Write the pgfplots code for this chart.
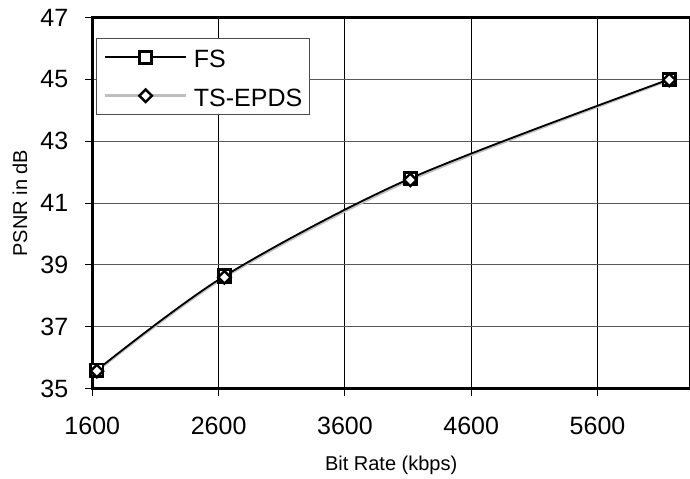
\documentclass[border=0pt]{standalone}
\usepackage{fontspec}
\setmainfont{Liberation Sans}
\usepackage{pgfplots}
\pgfplotsset{compat=1.18}
\begin{document}
\begin{tikzpicture}
\begin{axis}[
  name=ax,
  scale only axis,
  width=298.85pt, height=185.6pt,
  xmin=1600, xmax=6332,
  ymin=35, ymax=47,
  xtick={1600,2600,3600,4600,5600},
  ytick={35,37,39,41,43,45,47},
  grid=major,
  major x grid style={black, line width=0.5pt},
  major y grid style={black!65, line width=0.5pt},
  axis line style={line width=1.3pt},
  tick align=outside,
  tick pos=left,
  major tick length=3.5pt,
  tick style={black, line width=0.5pt},
  /pgf/number format/assume math mode=true,
  /pgf/number format/1000 sep={},
  ticklabel style={font=\fontsize{12.5}{15}\selectfont},
  xticklabel style={yshift=-7pt},
  yticklabel style={xshift=-5pt},
  xlabel={Bit Rate (kbps)},
  ylabel={PSNR in dB},
  label style={font=\fontsize{10}{12}\selectfont},
  xlabel style={at={(axis description cs:0.5,-0.2058)}, anchor=center},
  ylabel style={at={(axis description cs:-0.1211,0.5)}, anchor=center},
  legend style={at={(axis description cs:0.0057,0.9456)}, anchor=north west,
    draw=black!70, line width=0.6pt, fill=white,
    font=\fontsize{12.5}{15}\selectfont,
    nodes={inner sep=0pt, text height=11pt, text depth=0.5pt},
    inner xsep=3.5pt, inner ysep=3.8pt, row sep=7.7pt,
    /tikz/every odd column/.append style={column sep=3pt}},
  legend cell align=left,
  legend image code/.code={\draw[mark repeat=2, mark phase=2, #1] plot coordinates {(0pt,0pt) (20.35pt,0pt) (40.7pt,0pt)};},
]
% TS-EPDS line (drawn under)
\addplot[gray!50, line width=1.3pt, smooth, forget plot] coordinates {
  (1636,35.57) (2646,38.60) (4118,41.75) (6168,44.98)};
% FS
\addplot[black, line width=0.9pt, smooth, mark=square*, mark size=3.1pt,
  mark options={fill=white, draw=black, line width=1.4pt, solid}] coordinates {
  (1636,35.60) (2646,38.64) (4118,41.80) (6168,45.00)};
\addlegendentry{FS}
% TS-EPDS marks
\addplot[only marks, mark=square*, mark size=2.2pt,
  mark options={rotate=45, fill=white, draw=black, line width=1.2pt}, forget plot] coordinates {
  (1636,35.57) (2646,38.60) (4118,41.75) (6168,44.98)};
\addlegendimage{gray!50, line width=1.6pt, mark=square*, mark size=2.2pt,
  mark options={rotate=45, fill=white, draw=black, line width=1.2pt, solid}}
\addlegendentry{TS-EPDS}
\end{axis}
\pgfresetboundingbox
\path[use as bounding box] ([shift={(-46.15pt,-45.15pt)}]ax.south west) rectangle ([shift={(0pt,8.75pt)}]ax.north east);
\end{tikzpicture}
\end{document}
